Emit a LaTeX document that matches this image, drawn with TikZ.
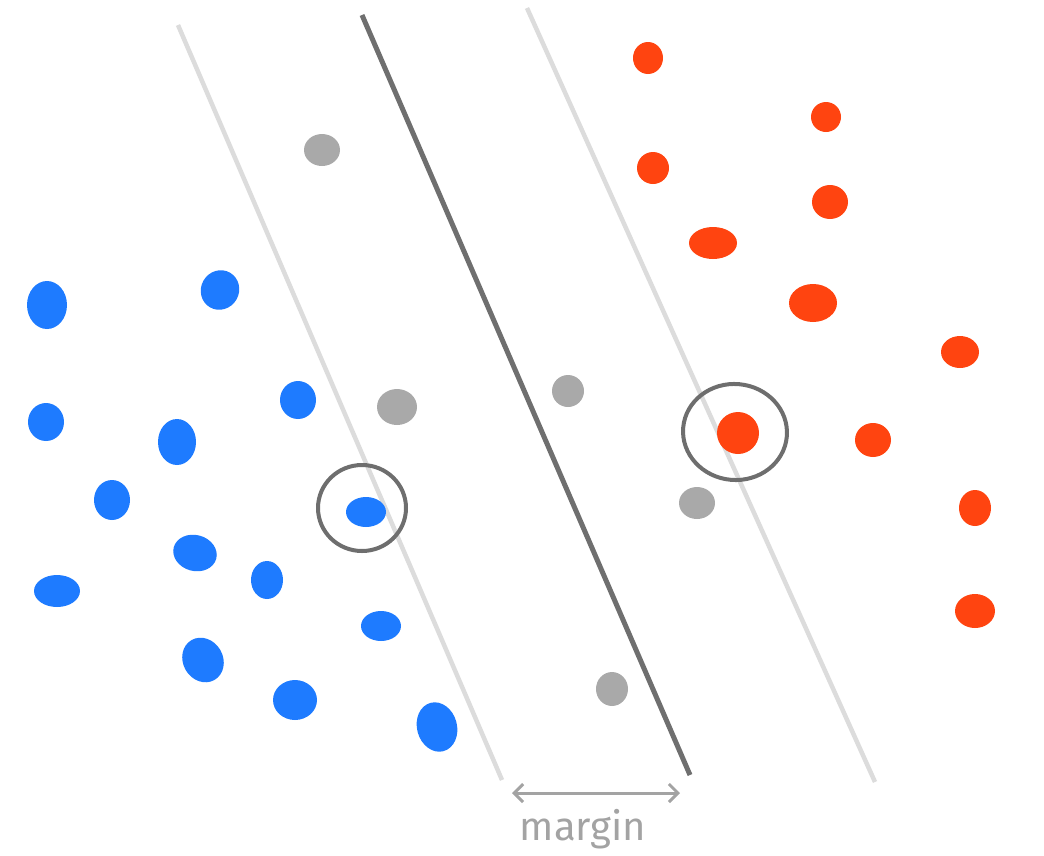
\documentclass[tikz,border=0pt]{standalone}
\usepackage{fontspec}
\setsansfont{Fira Sans}
\usetikzlibrary{shapes.geometric,arrows.meta}
\definecolor{dotblue}{HTML}{1E7BFF}
\definecolor{dotred}{HTML}{FF4410}
\definecolor{dotgray}{HTML}{A9A9A9}
\definecolor{lightline}{HTML}{DCDCDC}
\definecolor{darkline}{HTML}{6F6F6F}
\definecolor{ringgray}{HTML}{6E6E6E}
\definecolor{labelgray}{HTML}{A3A3A3}
\tikzset{
  dot/.style={ellipse, inner sep=0pt, draw=none},
  bdot/.style={dot, fill=dotblue},
  rdot/.style={dot, fill=dotred},
  gdot/.style={dot, fill=dotgray},
  ring/.style={ellipse, draw=ringgray, line width=4pt, inner sep=0pt},
  sideline/.style={draw=lightline, line width=4.5pt},
  mainline/.style={draw=darkline, line width=5pt},
}
\begin{document}
\begin{tikzpicture}[x=1pt,y=-1pt]
\useasboundingbox (0,0) rectangle (1044,855);
% lines
\coordinate (l1a) at (178,25); \coordinate (l1b) at (502,780);
\coordinate (l2a) at (362,15); \coordinate (l2b) at (690,775);
\coordinate (l3a) at (527,8);  \coordinate (l3b) at (875,782);
\draw[sideline] (l1a) -- (l1b);
\draw[mainline] (l2a) -- (l2b);
\draw[sideline] (l3a) -- (l3b);
% blue
\node[bdot, minimum width=40pt, minimum height=48pt] (b1) at (47,305) {};
\node[bdot, minimum width=38pt, minimum height=40pt, rotate=-30] (b2) at (220,290) {};
\node[bdot, minimum width=36pt, minimum height=38pt] (b3) at (46,422) {};
\node[bdot, minimum width=38pt, minimum height=46pt] (b4) at (177,442) {};
\node[bdot, minimum width=36pt, minimum height=38pt] (b5) at (298,400) {};
\node[bdot, minimum width=36pt, minimum height=40pt] (b6) at (112,500) {};
\node[bdot, minimum width=44pt, minimum height=36pt, rotate=-15] (b7) at (195,553) {};
\node[bdot, minimum width=32pt, minimum height=38pt] (b8) at (267,580) {};
\node[bdot, minimum width=46pt, minimum height=32pt] (b9) at (57,591) {};
\node[bdot, minimum width=40pt, minimum height=30pt] (b10) at (381,626) {};
\node[bdot, minimum width=40pt, minimum height=46pt, rotate=30] (b11) at (203,660) {};
\node[bdot, minimum width=44pt, minimum height=40pt] (b12) at (295,700) {};
\node[bdot, minimum width=40pt, minimum height=50pt, rotate=15] (b13) at (437,727) {};
\node[bdot, minimum width=40pt, minimum height=30pt] (b14) at (366,512) {};
% red
\node[rdot, minimum width=30pt, minimum height=32pt] (r1) at (648,58) {};
\node[rdot, minimum width=30pt, minimum height=30pt] (r2) at (826,117) {};
\node[rdot, minimum width=32pt, minimum height=32pt] (r3) at (653,168) {};
\node[rdot, minimum width=36pt, minimum height=34pt] (r4) at (830,202) {};
\node[rdot, minimum width=48pt, minimum height=32pt] (r5) at (713,243) {};
\node[rdot, minimum width=48pt, minimum height=38pt] (r6) at (813,303) {};
\node[rdot, minimum width=38pt, minimum height=32pt] (r7) at (960,352) {};
\node[rdot, minimum width=42pt, minimum height=42pt] (r8) at (738,433) {};
\node[rdot, minimum width=36pt, minimum height=34pt] (r9) at (873,440) {};
\node[rdot, minimum width=32pt, minimum height=36pt] (r10) at (975,508) {};
\node[rdot, minimum width=40pt, minimum height=34pt] (r11) at (975,611) {};
% gray
\node[gdot, minimum width=36pt, minimum height=32pt] (g1) at (322,150) {};
\node[gdot, minimum width=40pt, minimum height=36pt] (g2) at (397,407) {};
\node[gdot, minimum width=32pt, minimum height=32pt] (g3) at (568,391) {};
\node[gdot, minimum width=36pt, minimum height=32pt] (g4) at (697,503) {};
\node[gdot, minimum width=32pt, minimum height=34pt] (g5) at (612,689) {};
% rings
\node[ring, minimum width=88pt, minimum height=86pt] (c1) at (362,508) {};
\node[ring, minimum width=104pt, minimum height=96pt, rotate=-5] (c2) at (735,432) {};
% margin
\coordinate (ma) at (512,793);
\coordinate (mb) at (680,793);
\draw[draw=labelgray, line width=3pt, {Straight Barb[length=9pt,width=18pt]}-{Straight Barb[length=9pt,width=18pt]}] (ma) -- (mb);
\node[text=labelgray, font=\sffamily\fontsize{40}{46}\selectfont, anchor=center] (lbl) at (583,829) {margin};
\end{tikzpicture}
\end{document}
